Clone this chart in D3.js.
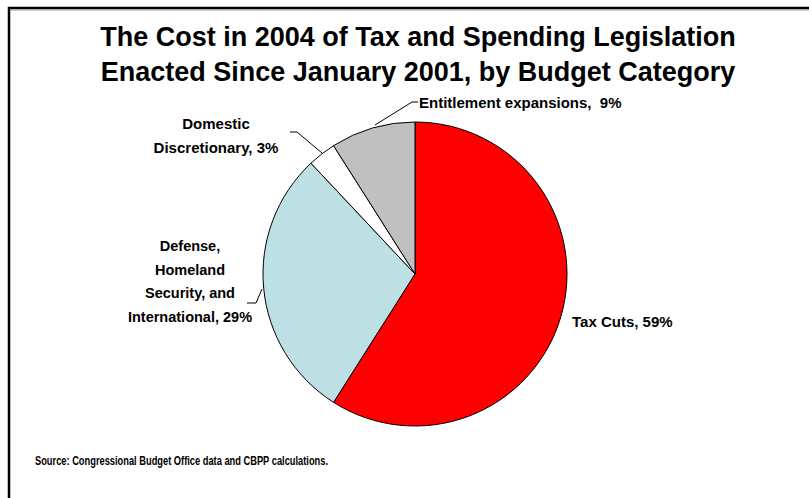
<!DOCTYPE html>
<html>
<head>
<meta charset="utf-8">
<script src="https://cdn.jsdelivr.net/npm/d3@7"></script>
<style>
  body { margin: 0; background: #fff; }
  svg { display: block; font-family: "Liberation Sans", Arial, sans-serif; font-weight: bold; }
</style>
</head>
<body>
<svg id="chart" width="809" height="498"></svg>
<script>
// chart data
const categories = ["Tax Cuts", "Defense, Homeland Security, and International", "Domestic Discretionary", "Entitlement expansions"];
const shares = [59, 29, 3, 9];
const colors = ["#ff0000", "#bce0e4", "#ffffff", "#c0c0c0"];
const labelLines = [
	["Tax Cuts, 59%"],
	["Defense,", "Homeland", "Security, and", "International, 29%"],
	["Domestic", "Discretionary, 3%"],
	["Entitlement expansions,  9%"]
];
const titleLines = ["The Cost in 2004 of Tax and Spending Legislation", "Enacted Since January 2001, by Budget Category"];
const sourceText = "Source: Congressional Budget Office data and CBPP calculations.";

const svg = d3.select("#chart");

// frame (right and bottom edges run off the page)
svg.append("path")
	.attr("d", "M9,499 V8 H812")
	.attr("fill", "none")
	.attr("stroke", "#000")
	.attr("stroke-width", 2.5);
svg.append("line")
	.attr("x1", 10).attr("x2", 812).attr("y1", 10).attr("y2", 10)
	.attr("stroke", "#999").attr("stroke-width", 1);

// title
svg.append("g").selectAll("text")
	.data(titleLines)
	.join("text")
	.attr("x", 418)
	.attr("y", (d, i) => 46 + i * 35)
	.attr("text-anchor", "middle")
	.attr("font-size", 27)
	.text(d => d);

// pie
const cx = 415, cy = 274, r = 152;
const pie = d3.pie().sort(null).value(d => d.value);
const arcs = pie(shares.map((v, i) => ({ value: v, name: categories[i], color: colors[i] })));
const arc = d3.arc().innerRadius(0).outerRadius(r);

const g = svg.append("g").attr("transform", `translate(${cx},${cy})`);
g.selectAll("path")
	.data(arcs)
	.join("path")
	.attr("d", arc)
	.attr("fill", d => d.data.color)
	.attr("stroke", "#000")
	.attr("stroke-width", 1);

// leader lines (from slice edge to label)
const leaders = [
	null,
	[[262, 289], [256, 303], [247, 303]],
	[[322, 153], [297, 132], [290, 132]],
	[[375, 125], [412, 102], [418, 102]]
];
svg.append("g").selectAll("polyline")
	.data(leaders.filter(d => d))
	.join("polyline")
	.attr("points", d => d.map(p => p.join(",")).join(" "))
	.attr("fill", "none")
	.attr("stroke", "#000")
	.attr("stroke-width", 1);

// labels
const labelPos = [
	{ x: 572, y: 327, anchor: "start", size: 15 },
	{ x: 190, y: 251, anchor: "middle", size: 14.5 },
	{ x: 216, y: 129, anchor: "middle", size: 15 },
	{ x: 419, y: 108, anchor: "start", size: 15 }
];
labelLines.forEach((lines, i) => {
	const p = labelPos[i];
	svg.append("text")
		.attr("x", p.x)
		.attr("y", p.y)
		.attr("text-anchor", p.anchor)
		.attr("font-size", p.size)
		.style("white-space", "pre")
		.selectAll("tspan")
		.data(lines)
		.join("tspan")
		.attr("x", p.x)
		.attr("dy", (d, j) => j === 0 ? 0 : 23.5)
		.text(d => d);
});

// source note (narrow face in the original)
svg.append("text")
	.attr("x", 35)
	.attr("y", 465)
	.attr("font-size", 12)
	.attr("textLength", 293)
	.attr("lengthAdjust", "spacingAndGlyphs")
	.text(sourceText);
</script>
</body>
</html>
